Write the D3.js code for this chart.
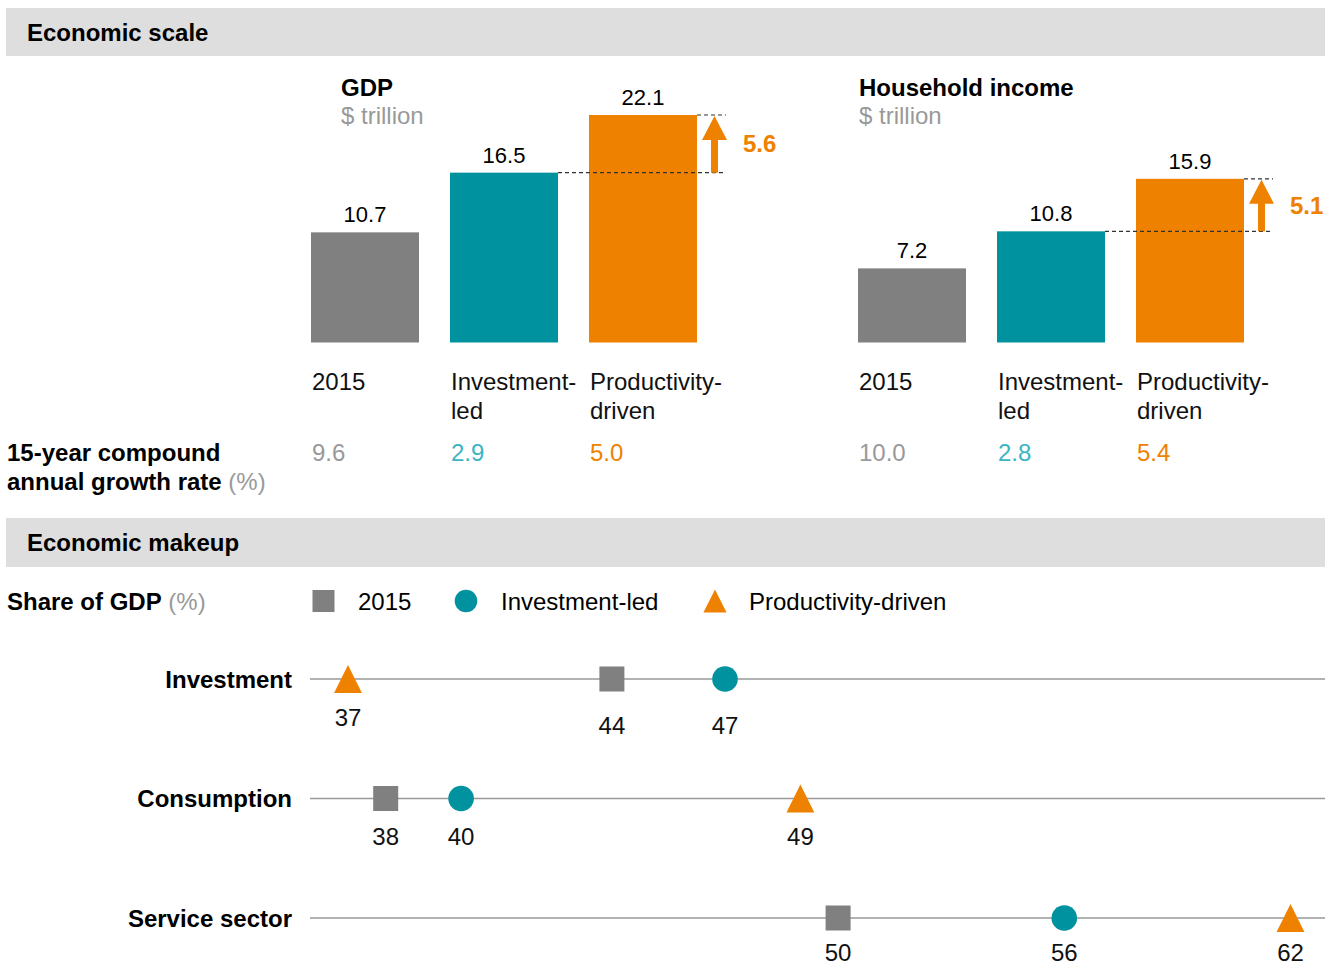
<!DOCTYPE html>
<html>
<head>
<meta charset="utf-8">
<script src="https://cdn.jsdelivr.net/npm/d3@7"></script>
<style>
  body { margin: 0; background: #fff; }
  text { font-family: "Liberation Sans", Arial, sans-serif; }
</style>
</head>
<body>
<div id="chart"></div>
<script>
// values
const scenarios = ["2015", "Investment-led", "Productivity-driven"];
const scenarioLines = [["2015"], ["Investment-", "led"], ["Productivity-", "driven"]];
const gdpValues = [10.7, 16.5, 22.1];
const incomeValues = [7.2, 10.8, 15.9];
const gdpGrowth = ["9.6", "2.9", "5.0"];
const incomeGrowth = ["10.0", "2.8", "5.4"];

const makeupRows = ["Investment", "Consumption", "Service sector"];
const share2015 = [44, 38, 50];
const shareInvest = [47, 40, 56];
const shareProd = [37, 49, 62];

const width = 1325, height = 967;
const grey = "#808080", teal = "#00929f", orange = "#ee8100";
const growthColors = ["#999999", "#3bb4c3", "#ee8100"];
const barColors = [grey, teal, orange];

const svg = d3.select("#chart").append("svg")
  .attr("width", width)
  .attr("height", height);

// section bands
function band(y, h, label) {
  svg.append("rect").attr("x", 6).attr("y", y).attr("width", width - 6).attr("height", h)
    .attr("fill", "#dedede");
  svg.append("text").attr("x", 27).attr("y", y + 33).text(label)
    .style("font-size", "24px").style("font-weight", "bold").attr("fill", "#000");
}
band(8, 48, "Economic scale");
band(518, 49, "Economic makeup");

// shared y scale for both bar panels
let y = d3.scaleLinear().domain([0, 22.1]).range([342.5, 115]);

function barPanel(x0, x1, values, growth, title, titleX) {
  let x = d3.scaleBand().domain(scenarios).range([x0, x1]).paddingInner(0.223);
  let g = svg.append("g");

  g.append("text").attr("x", titleX).attr("y", 96).text(title)
    .style("font-size", "24px").style("font-weight", "bold");
  g.append("text").attr("x", titleX).attr("y", 124).text("$ trillion")
    .style("font-size", "24px").attr("fill", "#999");

  g.selectAll("rect.bar").data(values).enter().append("rect")
    .attr("class", "bar")
    .attr("x", (d, i) => x(scenarios[i]))
    .attr("y", d => y(d))
    .attr("width", x.bandwidth())
    .attr("height", d => y(0) - y(d))
    .attr("fill", (d, i) => barColors[i]);

  g.selectAll("text.val").data(values).enter().append("text")
    .attr("class", "val")
    .attr("x", (d, i) => x(scenarios[i]) + x.bandwidth() / 2)
    .attr("y", d => y(d) - 10)
    .attr("text-anchor", "middle")
    .style("font-size", "22px")
    .text(d => d.toFixed(1));

  // uplift marker
  let right = x(scenarios[2]) + x.bandwidth();
  let lo = y(values[1]), hi = y(values[2]);
  let endX = right + 29;
  g.append("line").attr("x1", x(scenarios[1]) + x.bandwidth()).attr("x2", endX)
    .attr("y1", lo).attr("y2", lo)
    .attr("stroke", "#333").attr("stroke-width", 1.2).attr("stroke-dasharray", "4,3");
  g.append("line").attr("x1", right).attr("x2", endX)
    .attr("y1", hi).attr("y2", hi)
    .attr("stroke", "#333").attr("stroke-width", 1.2).attr("stroke-dasharray", "4,3");
  let ax = right + 17.5, hw = 12.5, sw = 3.5, hh = 25;
  g.append("path")
    .attr("d", `M${ax - sw},${lo} L${ax - sw},${hi + hh} L${ax - hw},${hi + hh} L${ax},${hi + 1} L${ax + hw},${hi + hh} L${ax + sw},${hi + hh} L${ax + sw},${lo} Z`)
    .attr("fill", orange);
  g.append("text").attr("x", right + 46).attr("y", (lo + hi) / 2 + 8.5)
    .text((values[2] - values[1]).toFixed(1))
    .style("font-size", "24px").style("font-weight", "bold").attr("fill", orange);

  // scenario labels
  scenarioLines.forEach((lines, i) => {
    let t = g.append("text").attr("x", x(scenarios[i]) + 1).attr("y", 390)
      .style("font-size", "24px").attr("fill", "#111");
    lines.forEach((l, j) => {
      t.append("tspan").attr("x", x(scenarios[i]) + 1).attr("dy", j ? 28.5 : 0).text(l);
    });
  });

  g.selectAll("text.growth").data(growth).enter().append("text")
    .attr("class", "growth")
    .attr("x", (d, i) => x(scenarios[i]) + 1)
    .attr("y", 461)
    .style("font-size", "24px")
    .attr("fill", (d, i) => growthColors[i])
    .text(d => d);
}

barPanel(311, 697, gdpValues, gdpGrowth, "GDP", 341);
barPanel(858, 1244, incomeValues, incomeGrowth, "Household income", 859);

let gr = svg.append("text").attr("x", 7).attr("y", 461).style("font-size", "24px")
  .style("font-weight", "bold");
gr.append("tspan").attr("x", 7).text("15-year compound");
gr.append("tspan").attr("x", 7).attr("dy", 29).text("annual growth rate");
gr.append("tspan").attr("fill", "#999").style("font-weight", "normal").text(" (%)");

// legend
let lg = svg.append("text").attr("x", 7).attr("y", 609.5).style("font-size", "24px")
  .style("font-weight", "bold");
lg.append("tspan").text("Share of GDP");
lg.append("tspan").attr("fill", "#999").style("font-weight", "normal").text(" (%)");

function marker(sel, kind, cx, cy, s) {
  if (kind === 0) {
    sel.append("rect").attr("x", cx - s / 2).attr("y", cy - s / 2).attr("width", s).attr("height", s)
      .attr("fill", grey);
  } else if (kind === 1) {
    sel.append("circle").attr("cx", cx).attr("cy", cy).attr("r", s / 2 + 0.3).attr("fill", teal);
  } else {
    let h = s * 1.05;
    sel.append("path")
      .attr("d", `M${cx},${cy - h / 2} L${cx + h / 2},${cy + h / 2} L${cx - h / 2},${cy + h / 2} Z`)
      .attr("fill", orange);
  }
}

const legendItems = [
  { label: "2015", mx: 323.5, tx: 358 },
  { label: "Investment-led", mx: 466, tx: 501 },
  { label: "Productivity-driven", mx: 715, tx: 749 }
];
legendItems.forEach((d, i) => {
  marker(svg, i, d.mx, 601, 22);
  svg.append("text").attr("x", d.tx).attr("y", 609.5).style("font-size", "24px").text(d.label);
});

// dot plot
let xs = d3.scaleLinear().domain([37, 62]).range([348, 1290.5]);
let rowY = d3.scalePoint().domain(makeupRows).range([679, 918]);

svg.selectAll("line.row").data(makeupRows).enter().append("line")
  .attr("class", "row")
  .attr("x1", 310).attr("x2", width)
  .attr("y1", d => rowY(d)).attr("y2", d => rowY(d))
  .attr("stroke", "#999").attr("stroke-width", 1.5);

svg.selectAll("text.rowlab").data(makeupRows).enter().append("text")
  .attr("class", "rowlab")
  .attr("x", 292).attr("y", d => rowY(d) + 8.5)
  .attr("text-anchor", "end")
  .style("font-size", "24px").style("font-weight", "bold")
  .text(d => d);

const seriesShares = [share2015, shareInvest, shareProd];
makeupRows.forEach((row, r) => {
  let cy = rowY(row);
  seriesShares.forEach((vals, k) => {
    let cx = xs(vals[r]);
    marker(svg, k, cx, cy, k === 2 ? 26.5 : 25);
    let drop = (r === 0 && k !== 2) ? 54.5 : (r === 2 ? 43 : 46.5);
    svg.append("text").attr("x", cx).attr("y", cy + drop)
      .attr("text-anchor", "middle").style("font-size", "24px").attr("fill", "#111")
      .text(vals[r]);
  });
});
</script>
</body>
</html>
